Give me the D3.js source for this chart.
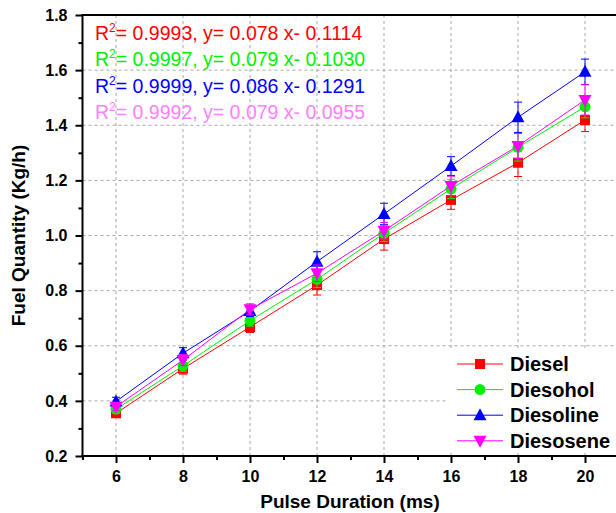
<!DOCTYPE html>
<html>
<head>
<meta charset="utf-8">
<script src="https://cdn.jsdelivr.net/npm/d3@7"></script>
<style>
  html, body { margin: 0; padding: 0; background: #fff; }
  svg { display: block; font-family: "Liberation Sans", Arial, sans-serif; }
</style>
</head>
<body>
<svg id="chart" width="616" height="513"></svg>
<script>
// Pulse duration (ms) on the x axis
const pulseDuration = [6, 8, 10, 12, 14, 16, 18, 20];

// Fuel quantity (kg/h) per blend, with error bar half-lengths
const diesel       = [0.355, 0.517, 0.668, 0.820, 0.987, 1.129, 1.264, 1.419];
const dieselErr    = [0.015, 0.020, 0.020, 0.036, 0.040, 0.034, 0.050, 0.042];
const diesohol     = [0.370, 0.527, 0.691, 0.841, 1.008, 1.169, 1.320, 1.467];
const diesoholErr  = [0.015, 0.020, 0.020, 0.030, 0.030, 0.035, 0.050, 0.040];
const diesoline    = [0.398, 0.573, 0.726, 0.905, 1.078, 1.252, 1.429, 1.594];
const diesolineErr = [0.015, 0.020, 0.020, 0.036, 0.039, 0.034, 0.055, 0.046];
const diesosene    = [0.379, 0.548, 0.732, 0.863, 1.017, 1.180, 1.325, 1.492];
const diesoseneErr = [0.015, 0.020, 0.020, 0.030, 0.030, 0.035, 0.045, 0.055];

const seriesNames = ["Diesel", "Diesohol", "Diesoline", "Diesosene"];

// Linear fit annotations: R², slope, intercept
const fitR2        = ["0.9993", "0.9997", "0.9999", "0.9992"];
const fitSlope     = ["0.078", "0.079", "0.086", "0.079"];
const fitIntercept = ["0.1114", "0.1030", "0.1291", "0.0955"];

const xMajorTicks = [6, 8, 10, 12, 14, 16, 18, 20];
const yMajorTicks = [0.2, 0.4, 0.6, 0.8, 1.0, 1.2, 1.4, 1.6, 1.8];

const xTitle = "Pulse Duration (ms)";
const yTitle = "Fuel Quantity (Kg/h)";

const series = [
  { name: seriesNames[0], values: diesel,    err: dieselErr,    color: "#ff0000", text: "#ff0000", symbol: "square" },
  { name: seriesNames[1], values: diesohol,  err: diesoholErr,  color: "#00f000", text: "#00f000", symbol: "circle" },
  { name: seriesNames[2], values: diesoline, err: diesolineErr, color: "#0000ff", text: "#0000ff", symbol: "up" },
  { name: seriesNames[3], values: diesosene, err: diesoseneErr, color: "#ff00ff", text: "#ff80ff", symbol: "down" }
];

const svg = d3.select("#chart");
const plotLeft = 82.5, plotTop = 15, plotBottom = 456, plotRight = 618.5;

const x = d3.scaleLinear().domain([5, 21]).range([plotLeft, plotRight]);
const y = d3.scaleLinear().domain([0.2, 1.8]).range([plotBottom, plotTop]);

// Dashed grid
const grid = svg.append("g");
grid.selectAll("line.gx").data(xMajorTicks).join("line")
  .attr("x1", d => x(d)).attr("x2", d => x(d))
  .attr("y1", plotTop).attr("y2", plotBottom)
  .attr("stroke", "#a8a8a8").attr("stroke-width", 1).attr("stroke-dasharray", "3,3");
grid.selectAll("line.gy").data(yMajorTicks.filter(v => v > 0.2 && v < 1.8)).join("line")
  .attr("x1", plotLeft).attr("x2", 616)
  .attr("y1", d => y(d)).attr("y2", d => y(d))
  .attr("stroke", "#a8a8a8").attr("stroke-width", 1).attr("stroke-dasharray", "3,3");

// Axes
const xAxis = d3.axisBottom(x).tickValues(xMajorTicks).tickSize(7).tickPadding(8).tickFormat(d3.format("d"));
const xMinor = d3.axisBottom(x).tickValues(d3.range(5, 22, 2)).tickSize(4).tickFormat("");
const yAxis = d3.axisLeft(y).tickValues(yMajorTicks).tickSize(7).tickPadding(8).tickFormat(d3.format(".1f"));
const yMinor = d3.axisLeft(y).tickValues(d3.range(0.3, 1.8, 0.2)).tickSize(4).tickFormat("");

function styleAxis(g) {
  g.select(".domain").remove();
  g.selectAll(".tick line").attr("stroke", "#000").attr("stroke-width", 2);
  g.selectAll(".tick text").attr("fill", "#000").style("font-size", "16px").style("font-weight", "bold")
    .style("font-family", '"Liberation Sans", Arial, sans-serif');
}

svg.append("g").attr("transform", `translate(0,${plotBottom})`).call(xMinor).call(styleAxis);
svg.append("g").attr("transform", `translate(0,${plotBottom})`).call(xAxis).call(styleAxis);
svg.append("g").attr("transform", `translate(${plotLeft},0)`).call(yMinor).call(styleAxis);
svg.append("g").attr("transform", `translate(${plotLeft},0)`).call(yAxis).call(styleAxis);

// Frame lines
svg.append("line").attr("x1", plotLeft - 1).attr("x2", 616).attr("y1", plotBottom).attr("y2", plotBottom)
  .attr("stroke", "#000").attr("stroke-width", 2);
svg.append("line").attr("x1", plotLeft).attr("x2", plotLeft).attr("y1", plotTop - 1).attr("y2", plotBottom + 1)
  .attr("stroke", "#000").attr("stroke-width", 2);
svg.append("line").attr("x1", plotLeft).attr("x2", 616).attr("y1", plotTop).attr("y2", plotTop)
  .attr("stroke", "#000").attr("stroke-width", 2);

// Axis titles
svg.append("text").attr("x", 350).attr("y", 508)
  .attr("text-anchor", "middle").style("font-size", "19px").style("font-weight", "bold").text(xTitle);
svg.append("text").attr("transform", `translate(25,${(plotTop + plotBottom) / 2}) rotate(-90)`)
  .attr("text-anchor", "middle").style("font-size", "19px").style("font-weight", "bold").text(yTitle);

// Marker shapes
function symbolPath(kind) {
  if (kind === "square") return d3.symbol(d3.symbolSquare, 100)();
  if (kind === "circle") return d3.symbol(d3.symbolCircle, 95)();
  if (kind === "up") return "M0,-7L6.5,5L-6.5,5Z";
  return "M0,7L6.5,-5L-6.5,-5Z";
}

const line = d3.line().x(d => x(d[0])).y(d => y(d[1]));

series.forEach(s => {
  const pts = pulseDuration.map((p, i) => [p, s.values[i], s.err[i]]);
  const g = svg.append("g");
  // Connecting line
  g.append("path").datum(pts).attr("d", line)
    .attr("fill", "none").attr("stroke", s.color).attr("stroke-width", 1);
  // Error bars
  const eb = g.selectAll("g.eb").data(pts).join("g");
  eb.append("line").attr("x1", d => x(d[0])).attr("x2", d => x(d[0]))
    .attr("y1", d => y(d[1] - d[2])).attr("y2", d => y(d[1] + d[2]))
    .attr("stroke", s.color).attr("stroke-width", 1);
  eb.append("line").attr("x1", d => x(d[0]) - 4).attr("x2", d => x(d[0]) + 4)
    .attr("y1", d => y(d[1] + d[2])).attr("y2", d => y(d[1] + d[2]))
    .attr("stroke", s.color).attr("stroke-width", 1);
  eb.append("line").attr("x1", d => x(d[0]) - 4).attr("x2", d => x(d[0]) + 4)
    .attr("y1", d => y(d[1] - d[2])).attr("y2", d => y(d[1] - d[2]))
    .attr("stroke", s.color).attr("stroke-width", 1);
  // Markers
  g.selectAll("path.m").data(pts).join("path")
    .attr("transform", d => `translate(${x(d[0])},${y(d[1])})`)
    .attr("d", symbolPath(s.symbol)).attr("fill", s.color);
});

// Regression annotations
series.forEach((s, i) => {
  const t = svg.append("text").attr("x", 95).attr("y", 40 + i * 26.3)
    .attr("fill", s.text).style("font-size", "19.5px");
  t.append("tspan").text("R");
  t.append("tspan").attr("dy", -8).style("font-size", "12px").text("2");
  t.append("tspan").attr("dy", 8).text(`= ${fitR2[i]}, y= ${fitSlope[i]} x- ${fitIntercept[i]}`);
});

// Legend
const lg = svg.append("g");
lg.append("rect").attr("x", 447).attr("y", 350).attr("width", 170).attr("height", 103).attr("fill", "#fff");
series.forEach((s, i) => {
  const cy = 364 + i * 25.6;
  lg.append("line").attr("x1", 457).attr("x2", 503).attr("y1", cy).attr("y2", cy)
    .attr("stroke", s.color).attr("stroke-width", 1);
  lg.append("path").attr("transform", `translate(480,${cy})`).attr("d", symbolPath(s.symbol)).attr("fill", s.color);
  lg.append("text").attr("x", 510).attr("y", cy).attr("dy", "0.36em")
    .style("font-size", "20px").style("font-weight", "bold").attr("fill", "#000").text(s.name);
});
</script>
</body>
</html>
